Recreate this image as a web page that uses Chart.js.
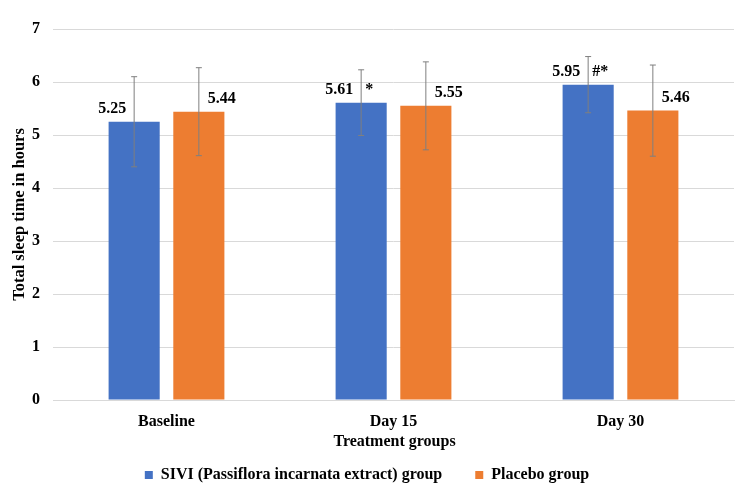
<!DOCTYPE html>
<html>
<head>
<meta charset="utf-8">
<script src="https://cdn.jsdelivr.net/npm/chart.js@4.4.1/dist/chart.umd.min.js"></script>
<style>
  html, body { margin: 0; padding: 0; background: #fff; }
  #wrap { width: 750px; height: 495px; }
</style>
</head>
<body>
<div id="wrap"><canvas id="sleepChart" width="750" height="495"></canvas></div>
<script>
// data
const categories = ["Baseline", "Day 15", "Day 30"]
const siviMeans = [5.25, 5.61, 5.95]
const siviSD = [0.85, 0.62, 0.53]
const placeboMeans = [5.44, 5.55, 5.46]
const placeboSD = [0.83, 0.83, 0.86]
const siviMarks = ["", "*", "#*"]
const seriesNames = ["SIVI (Passiflora incarnata extract) group", "Placebo group"]
const yLimits = [0, 7]

const FONT = "'Liberation Serif', 'Times New Roman', serif"
const errors = [siviSD, placeboSD]

// error bars + value labels + x title
const annotate = {
  id: "annotate",
  afterDatasetsDraw(chart) {
    const ctx = chart.ctx
    const y = chart.scales.y
    ctx.save()
    chart.data.datasets.forEach((ds, di) => {
      const meta = chart.getDatasetMeta(di)
      meta.data.forEach((bar, i) => {
        const v = ds.data[i]
        const sd = errors[di][i]
        const top = y.getPixelForValue(v + sd)
        const bot = y.getPixelForValue(v - sd)
        ctx.strokeStyle = "#7f7f7f"
        ctx.lineWidth = 1
        ctx.beginPath()
        ctx.moveTo(bar.x, top); ctx.lineTo(bar.x, bot)
        ctx.moveTo(bar.x - 3, top); ctx.lineTo(bar.x + 3, top)
        ctx.moveTo(bar.x - 3, bot); ctx.lineTo(bar.x + 3, bot)
        ctx.stroke()

        ctx.fillStyle = "#000"
        ctx.font = "bold 16px " + FONT
        ctx.textBaseline = "middle"
        const ly = bar.y - 13
        if (di === 0) {
          ctx.textAlign = "right"
          ctx.fillText(v.toFixed(2), bar.x - 8, ly)
          if (siviMarks[i]) {
            ctx.textAlign = "left"
            ctx.fillText(siviMarks[i], bar.x + 4, ly)
          }
        } else {
          ctx.textAlign = "left"
          ctx.fillText(v.toFixed(2), bar.x + 9, ly)
        }
      })
    })
    const area = chart.chartArea
    ctx.font = "bold 16px " + FONT
    ctx.textAlign = "center"
    ctx.textBaseline = "middle"
    ctx.fillText("Treatment groups", (area.left + area.right) / 2 + 1, 442)
    ctx.restore()
  },
}

new Chart(document.getElementById("sleepChart"), {
  type: "bar",
  data: {
    labels: categories,
    datasets: [
      { label: seriesNames[0], data: siviMeans, backgroundColor: "#4472C4" },
      { label: seriesNames[1], data: placeboMeans, backgroundColor: "#ED7D31" },
    ],
  },
  options: {
    responsive: false,
    animation: false,
    categoryPercentage: 0.57,
    barPercentage: 0.79,
    layout: { padding: { top: 29, right: 16, left: 0, bottom: 2 } },
    plugins: {
      tooltip: { enabled: false },
      legend: {
        position: "bottom",
        labels: {
          boxWidth: 8,
          boxHeight: 8,
          padding: 33,
          color: "#000",
          font: { family: FONT, size: 16, weight: "bold" },
        },
      },
    },
    scales: {
      x: {
        afterFit: (s) => { s.height = 34 },
        grid: { display: false, drawTicks: false },
        border: { color: "#d9d9d9" },
        ticks: { padding: 12, color: "#000", font: { family: FONT, size: 16, weight: "bold" } },
      },
      y: {
        min: yLimits[0],
        max: yLimits[1],
        afterFit: (s) => { s.width = 53 },
        border: { display: false },
        grid: { color: "#d9d9d9", drawTicks: false },
        ticks: { stepSize: 1, padding: 13, color: "#000", font: { family: FONT, size: 16, weight: "bold" } },
        title: {
          display: true,
          text: "Total sleep time in hours",
          color: "#000",
          padding: 10,
          font: { family: FONT, size: 16.5, weight: "bold" },
        },
      },
    },
  },
  plugins: [annotate],
})
</script>
</body>
</html>
